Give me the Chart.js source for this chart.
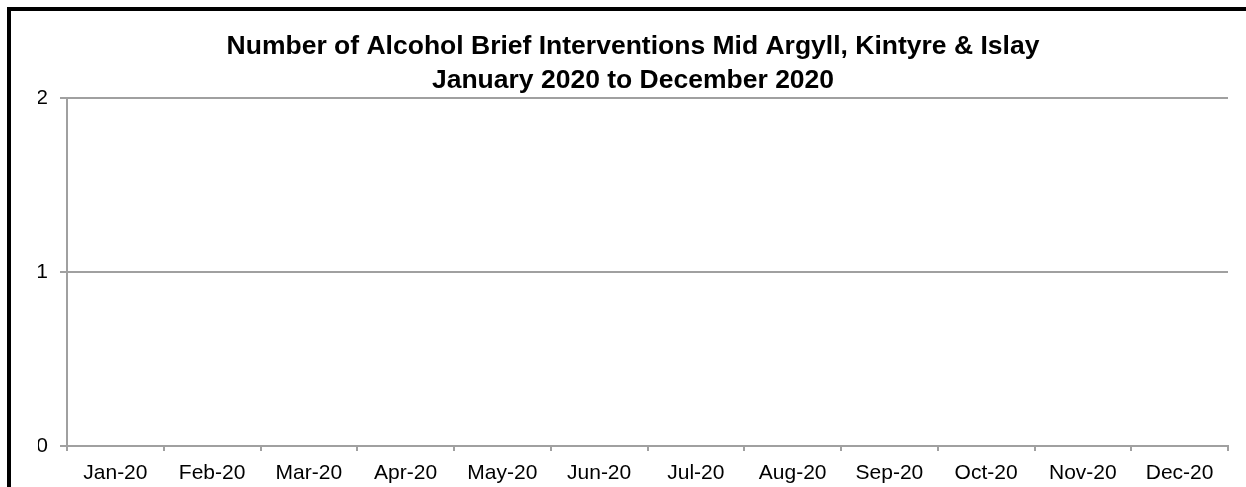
<!DOCTYPE html>
<html>
<head>
<meta charset="utf-8">
<script src="https://cdn.jsdelivr.net/npm/chart.js@4/dist/chart.umd.min.js"></script>
<style>
  html, body { margin: 0; padding: 0; background: #fff; overflow: hidden; }
  #wrap { position: relative; width: 1246px; height: 487px; }
  #frame {
    position: absolute; left: 7px; top: 7px;
    width: 1300px; height: 600px;
    border: 4px solid #000;
  }
  #chart { position: absolute; left: 0; top: 0; }
</style>
</head>
<body>
<div id="wrap">
  <div id="frame"></div>
  <canvas id="chart" width="1246" height="487"></canvas>
</div>
<script>
const months = ['Jan-20', 'Feb-20', 'Mar-20', 'Apr-20', 'May-20', 'Jun-20',
  'Jul-20', 'Aug-20', 'Sep-20', 'Oct-20', 'Nov-20', 'Dec-20'];
const interventions = [0, 0, 0, 0, 0, 0, 0, 0, 0, 0, 0, 0];
const yTicks = [0, 1, 2];
const titleLines = [
  'Number of Alcohol Brief Interventions Mid Argyll, Kintyre & Islay',
  'January 2020 to December 2020'
];

const fontFamily = "Arial, 'Liberation Sans', sans-serif";
const gridColor = '#a0a0a0';

new Chart(document.getElementById('chart'), {
  type: 'bar',
  data: {
    labels: months,
    datasets: [{
      label: 'Interventions',
      data: interventions,
      backgroundColor: '#4f81bd',
      borderWidth: 0
    }]
  },
  options: {
    responsive: false,
    animation: false,
    devicePixelRatio: 1,
    layout: { padding: { left: 38, right: 18, top: 0, bottom: 0 } },
    scales: {
      x: {
        offset: true,
        grid: {
          offset: true,
          drawOnChartArea: false,
          drawTicks: true,
          tickLength: 5,
          color: gridColor,
          lineWidth: 2
        },
        border: { display: true, color: gridColor, width: 2 },
        ticks: {
          color: '#000',
          padding: 10,
          maxRotation: 0,
          autoSkip: false,
          font: { size: 21, family: fontFamily }
        },
        afterFit: scale => { scale.height = 41; }
      },
      y: {
        min: yTicks[0],
        max: yTicks[yTicks.length - 1],
        afterBuildTicks: scale => { scale.ticks = yTicks.map(v => ({ value: v })); },
        grid: {
          drawTicks: true,
          tickLength: 7,
          color: gridColor,
          lineWidth: 2
        },
        border: { display: true, color: gridColor, width: 2 },
        ticks: {
          color: '#000',
          padding: 12,
          font: { size: 21, family: fontFamily }
        },
        afterFit: scale => { scale.width = 29; }
      }
    },
    plugins: {
      legend: { display: false },
      tooltip: { enabled: false },
      title: {
        display: true,
        text: titleLines,
        color: '#000',
        font: { size: 26.5, weight: 'bold', family: fontFamily, lineHeight: '34px' },
        padding: { top: 30, bottom: 0 }
      }
    }
  }
});
</script>
</body>
</html>
